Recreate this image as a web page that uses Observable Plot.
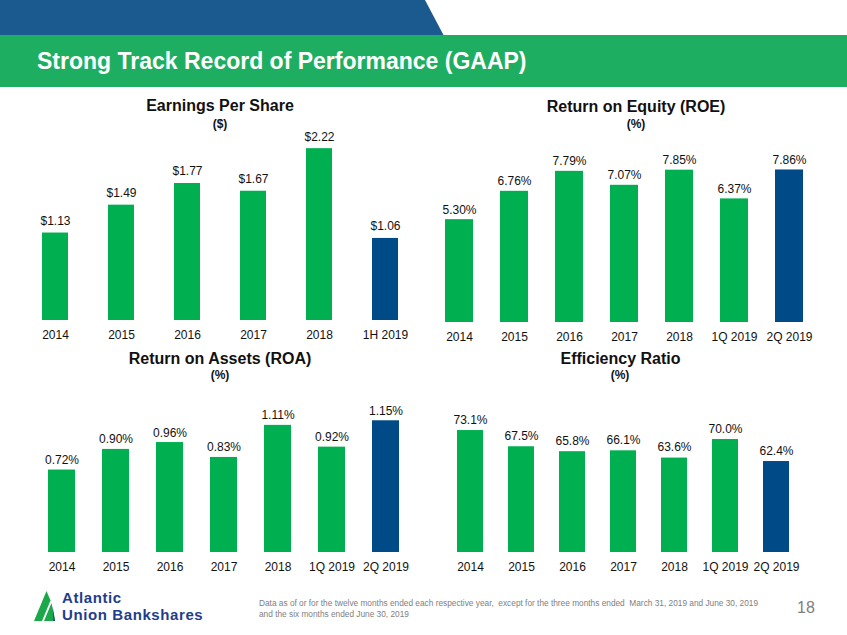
<!DOCTYPE html>
<html>
<head>
<meta charset="utf-8">
<script src="https://cdn.jsdelivr.net/npm/d3@7"></script>
<script src="https://cdn.jsdelivr.net/npm/@observablehq/plot@0.6"></script>
<style>
  html, body { margin: 0; padding: 0; background: #fff; }
  #page { position: relative; width: 847px; height: 635px; overflow: hidden; background: #fff;
          font-family: "Liberation Sans", Arial, sans-serif; }
  .abs { position: absolute; white-space: nowrap; }
  .hdr-blue { left: 0; top: 0; width: 445px; height: 36px; background: #1b5a8e;
              clip-path: polygon(0 0, 425px 0, 444px 36px, 0 36px); }
  .hdr-green { left: 0; top: 35px; width: 847px; height: 52px; background: #1eae61; }
  .hdr-title { left: 37px; top: 49.8px; font-size: 23px; line-height: 23px; font-weight: bold; color: #fff; }
  .ctitle { width: 300px; text-align: center; font-size: 16px; line-height: 16px; font-weight: bold; color: #111; }
  .csub { width: 100px; text-align: center; font-size: 12px; line-height: 12px; font-weight: bold; color: #111; }
  .logo-text { left: 62px; top: 589.9px; font-size: 15px; line-height: 16.8px; letter-spacing: 0.6px; font-weight: bold; color: #1f3d8c; }
  .note { left: 259px; top: 598.4px; font-size: 8.3px; line-height: 10.5px; color: #808080; }
  .pagenum { left: 797px; top: 600px; font-size: 16px; line-height: 16px; color: #808080; }
</style>
</head>
<body>
<div id="page">
  <div class="abs hdr-blue"></div>
  <div class="abs hdr-green"></div>
  <div class="abs hdr-title">Strong Track Record of Performance (GAAP)</div>

  <div class="abs ctitle" style="left:70px;top:98.2px">Earnings Per Share</div>
  <div class="abs csub" style="left:170px;top:118.3px">($)</div>
  <div class="abs ctitle" style="left:486px;top:99.2px">Return on Equity (ROE)</div>
  <div class="abs csub" style="left:586px;top:118.3px">(%)</div>
  <div class="abs ctitle" style="left:70px;top:350.8px">Return on Assets (ROA)</div>
  <div class="abs csub" style="left:170px;top:369.3px">(%)</div>
  <div class="abs ctitle" style="left:470.5px;top:350.5px">Efficiency Ratio</div>
  <div class="abs csub" style="left:570px;top:369.3px">(%)</div>

  <svg class="abs" style="left:30px;top:585px" width="30" height="40" viewBox="0 0 30 40">
    <polygon points="4,36 16.5,6 20.5,15.5 12,36" fill="#1aa84a"/>
    <polygon points="21.5,18 25,36 14,36" fill="#1aa84a"/>
    <polygon points="22.5,20.5 25,36 23.5,36" fill="#1f3d8c"/>
  </svg>
  <div class="abs logo-text">Atlantic<br>Union Bankshares</div>

  <div class="abs note">Data as of or for the twelve months ended each respective year,&nbsp; except for the three months ended&nbsp; March 31, 2019 and June 30, 2019<br>and the six months ended June 30, 2019</div>
  <div class="abs pagenum">18</div>
</div>
<script>
// ---- data ----
const epsCategories = ["2014", "2015", "2016", "2017", "2018", "1H 2019"];
const epsValues = [1.13, 1.49, 1.77, 1.67, 2.22, 1.06];

const quarterCategories = ["2014", "2015", "2016", "2017", "2018", "1Q 2019", "2Q 2019"];
const roeValues = [5.30, 6.76, 7.79, 7.07, 7.85, 6.37, 7.86];
const roaValues = [0.72, 0.90, 0.96, 0.83, 1.11, 0.92, 1.15];
const efficiencyValues = [73.1, 67.5, 65.8, 66.1, 63.6, 70.0, 62.4];

const GREEN = "#00b050";
const NAVY = "#004a88";

function chart({cats, vals, fmt, left, top, width, height, padding, yDomain, gap}) {
  const data = cats.map((c, i) => ({cat: c, val: vals[i], color: i === cats.length - 1 ? NAVY : GREEN}));
  const svg = Plot.plot({
    width, height,
    marginLeft: 0, marginRight: 0, marginTop: 10, marginBottom: 30,
    style: {fontFamily: "Liberation Sans, Arial, sans-serif", fontSize: "12px", background: "transparent", overflow: "visible", color: "#111"},
    x: {domain: cats, padding, label: null, tickSize: 0, tickPadding: 9.5},
    y: {domain: yDomain, axis: null},
    color: {type: "identity"},
    marks: [
      Plot.barY(data, {x: "cat", y1: yDomain[0], y2: "val", fill: "color"}),
      Plot.text(data, {x: "cat", y: "val", text: d => fmt(d.val), dy: -gap, lineAnchor: "bottom", fontSize: 12, fill: "#111"})
    ]
  });
  svg.style.position = "absolute";
  svg.style.left = left + "px";
  svg.style.top = top + "px";
  document.getElementById("page").appendChild(svg);
}

chart({cats: epsCategories, vals: epsValues, fmt: v => "$" + v.toFixed(2),
       left: 0, top: 90, width: 441, height: 260, padding: 0.6, yDomain: [0, 2.842], gap: 8});
chart({cats: quarterCategories, vals: roeValues, fmt: v => v.toFixed(2) + "%",
       left: 415, top: 90, width: 418, height: 262, padding: 0.5, yDomain: [0, 11.44], gap: 6});
chart({cats: quarterCategories, vals: roaValues, fmt: v => v.toFixed(2) + "%",
       left: 19, top: 345, width: 408, height: 237, padding: 0.5, yDomain: [0, 1.72], gap: 6});
chart({cats: quarterCategories, vals: efficiencyValues, fmt: v => v.toFixed(1) + "%",
       left: 430, top: 345, width: 385, height: 237, padding: 0.5, yDomain: [31, 99], gap: 7});
</script>
</body>
</html>
